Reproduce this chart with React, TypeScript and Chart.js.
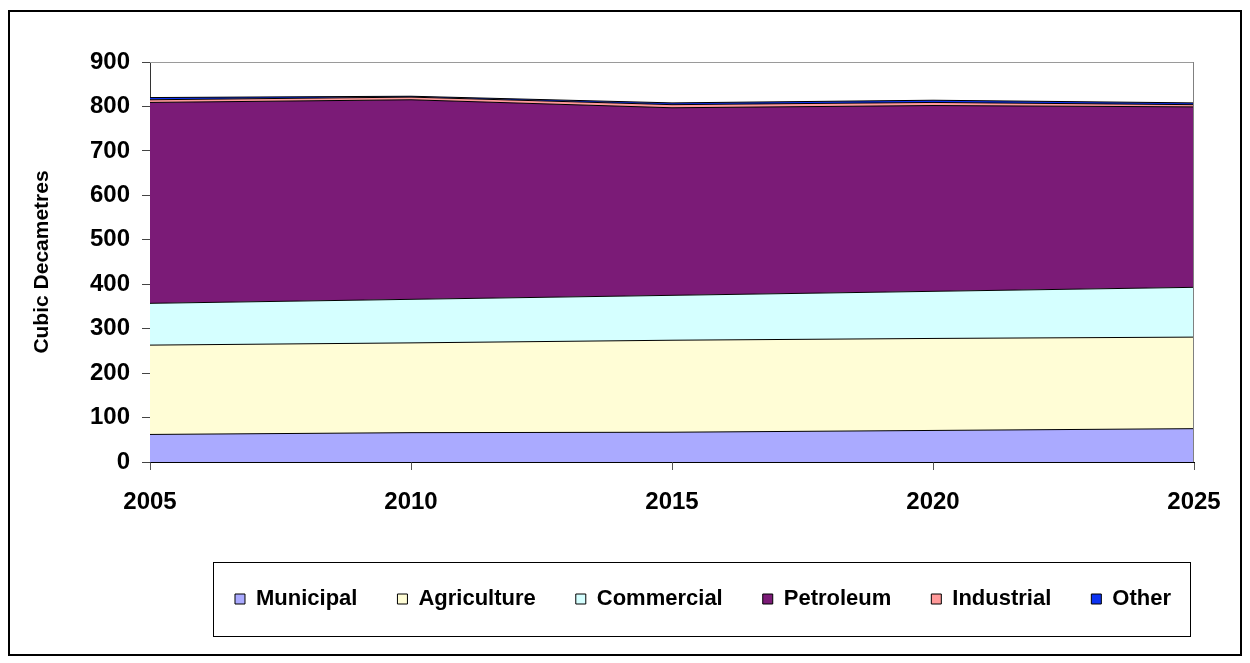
import React, { useEffect, useRef } from 'react';
import { Chart, registerables } from 'chart.js';

Chart.register(...registerables);

const years = [2005, 2010, 2015, 2020, 2025];
const seriesNames = ['Municipal', 'Agriculture', 'Commercial', 'Petroleum', 'Industrial', 'Other'];
const municipal = [62, 66, 67, 71, 75];
const agriculture = [201, 202, 207, 207, 206];
const commercial = [94, 98, 101, 106, 112];
const petroleum = [452, 449, 422, 418, 406];
const industrial = [6, 6, 7, 7, 5];
const other = [5, 2, 4, 5, 4];
const seriesColors = ['#AAAAFF', '#FFFDD6', '#D5FFFF', '#7B1B77', '#FF9999', '#0D33F2'];
const yTickValues = [0, 100, 200, 300, 400, 500, 600, 700, 800, 900];
const xTickValues = [2005, 2010, 2015, 2020, 2025];
const yTitle = 'Cubic Decametres';

const FONT = '"Liberation Sans", Arial, sans-serif';

const W = 1230;
const H = 642;
const AREA = { left: 140, right: 1184, top: 50, bottom: 450 };
const LEGEND_BOX = { left: 203, right: 1180, top: 550, bottom: 624 };
const LEGEND_CENTER_X = 693;
const LEGEND_PAD = 40;
const LEGEND_FONT = 22;

const framePlugin = {
  id: 'frameAndLegendBox',
  afterLayout(chart: any) {
    const lg = chart.legend;
    if (!lg) return;
    const rowCenter = (LEGEND_BOX.top + LEGEND_BOX.bottom) / 2;
    const h = lg.height;
    const half = 560;
    lg.left = LEGEND_CENTER_X - half;
    lg.right = LEGEND_CENTER_X + half;
    lg.width = half * 2;
    lg.top = rowCenter - LEGEND_PAD - LEGEND_FONT / 2;
    lg.bottom = lg.top + h;
  },
  afterDatasetsDraw(chart: any) {
    const ctx = chart.ctx;
    const a = chart.chartArea;
    ctx.save();
    ctx.lineWidth = 1;
    ctx.strokeStyle = '#9a9a9a';
    ctx.beginPath();
    ctx.moveTo(a.left, a.top + 0.5);
    ctx.lineTo(a.right, a.top + 0.5);
    ctx.stroke();
    ctx.strokeStyle = '#808080';
    ctx.beginPath();
    ctx.moveTo(a.right - 0.5, a.top);
    ctx.lineTo(a.right - 0.5, a.bottom);
    ctx.stroke();
    ctx.restore();
  },
  afterDraw(chart: any) {
    const ctx = chart.ctx;
    ctx.save();
    ctx.lineWidth = 1;
    ctx.strokeStyle = '#000000';
    ctx.strokeRect(
      LEGEND_BOX.left + 0.5,
      LEGEND_BOX.top + 0.5,
      LEGEND_BOX.right - LEGEND_BOX.left,
      LEGEND_BOX.bottom - LEGEND_BOX.top
    );
    ctx.restore();
  },
};

export default function App() {
  const ref = useRef<HTMLCanvasElement | null>(null);

  useEffect(() => {
    if (!ref.current) return;
    const values = [municipal, agriculture, commercial, petroleum, industrial, other];
    const datasets = seriesNames.map((name, i) => ({
      label: name,
      data: years.map((yr, j) => ({ x: yr, y: values[i][j] })),
      backgroundColor: seriesColors[i],
      borderColor: '#000000',
      borderWidth: 1,
      pointRadius: 0,
      pointHoverRadius: 0,
      tension: 0,
      fill: i === 0 ? 'origin' : '-1',
    }));

    const chart = new Chart(ref.current, {
      type: 'line',
      data: { datasets },
      plugins: [framePlugin],
      options: {
        animation: false,
        responsive: false,
        devicePixelRatio: 1,
        layout: { padding: { top: AREA.top, left: 0, right: W - AREA.right, bottom: 0 } },
        plugins: {
          legend: {
            position: 'bottom',
            labels: {
              boxWidth: 10,
              boxHeight: 10,
              padding: LEGEND_PAD,
              color: '#000',
              font: { family: FONT, size: LEGEND_FONT, weight: 'bold' },
            },
          },
          tooltip: { enabled: false },
          title: { display: false },
        },
        scales: {
          x: {
            type: 'linear',
            min: xTickValues[0],
            max: xTickValues[xTickValues.length - 1],
            afterBuildTicks: (scale: any) => {
              scale.ticks = xTickValues.map((v) => ({ value: v }));
            },
            afterFit: (scale: any) => {
              const lg = scale.chart.legend;
              scale.height = H - AREA.bottom - (lg ? lg.height : 0);
            },
            ticks: {
              color: '#000',
              padding: 18,
              maxRotation: 0,
              autoSkip: false,
              font: { family: FONT, size: 24, weight: 'bold' },
              callback: (v: any) => String(v),
            },
            grid: {
              display: true,
              drawOnChartArea: false,
              drawTicks: true,
              tickLength: 8,
              color: '#555',
            },
            border: { display: true, color: '#000', width: 1 },
          },
          y: {
            type: 'linear',
            stacked: true,
            min: yTickValues[0],
            max: yTickValues[yTickValues.length - 1],
            afterBuildTicks: (scale: any) => {
              scale.ticks = yTickValues.map((v) => ({ value: v }));
            },
            afterFit: (scale: any) => {
              scale.width = AREA.left;
            },
            ticks: {
              color: '#000',
              padding: 12,
              font: { family: FONT, size: 24, weight: 'bold' },
              callback: (v: any) => String(v),
            },
            grid: {
              display: true,
              drawOnChartArea: false,
              drawTicks: true,
              tickLength: 8,
              color: '#444',
            },
            border: { display: true, color: '#333', width: 1 },
            title: {
              display: true,
              text: yTitle,
              color: '#000',
              padding: { top: 20, bottom: 0 },
              font: { family: FONT, size: 21, weight: 'bold' },
            },
          },
        },
      },
    } as any);

    return () => chart.destroy();
  }, []);

  return (
    <div
      style={{
        position: 'absolute',
        left: 8,
        top: 10,
        width: W,
        height: H,
        border: '2px solid #000',
        background: '#fff',
      }}
    >
      <canvas ref={ref} width={W} height={H} style={{ display: 'block', width: W, height: H }} />
    </div>
  );
}
